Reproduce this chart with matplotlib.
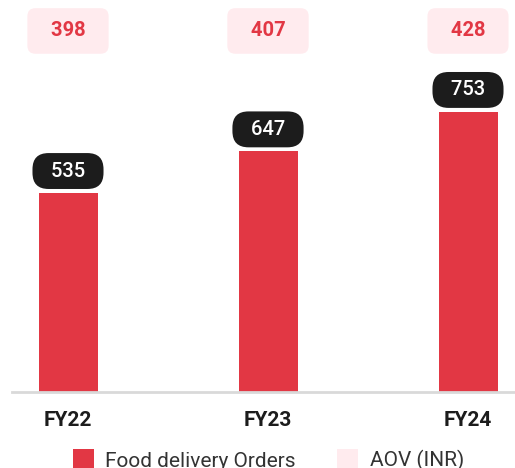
import matplotlib
matplotlib.use("Agg")
from matplotlib import pyplot as plt

# Data
years = ["FY22", "FY23", "FY24"]
orders = [535, 647, 753]
aov = [398, 407, 428]

RED = "#E23744"
PINK = "#FFEBEE"
DARK = "#1C1C1C"

plt.rcParams["font.family"] = ["Roboto", "DejaVu Sans"]

fig = plt.figure(figsize=(5.15, 4.68), dpi=100)
ax = fig.add_axes([12 / 515, 76 / 468, 503 / 515, 392 / 468])

x = range(len(years))
bars = ax.bar(x, orders, width=0.295, color=RED, label="Food delivery Orders", zorder=2)

ax.set_xlim(-0.28, 2.235)
ax.set_ylim(0, 1054)

# black pill labels above each bar
for xi, v in zip(x, orders):
    ax.annotate("  " + str(v) + "  ", (xi, v), xytext=(0, 22), textcoords="offset pixels",
                ha="center", va="center", color="white", fontsize=14.5, fontweight="medium",
                bbox=dict(boxstyle="round,pad=0.42,rounding_size=0.8", fc=DARK, ec="none"))

# AOV boxes along the top
for xi, v in zip(x, aov):
    ax.text(xi, 0.921, "  " + str(v) + "  ", transform=ax.get_xaxis_transform(),
            ha="center", va="center", color=RED, fontsize=14.5, fontweight="bold",
            bbox=dict(boxstyle="round,pad=0.66,rounding_size=0.4", fc=PINK, ec="none"))

for s in ["top", "right", "left"]:
    ax.spines[s].set_visible(False)
ax.spines["bottom"].set_color("#D9D9D9")
ax.spines["bottom"].set_linewidth(2)
ax.set_yticks([])
ax.set_xticks(list(x))
ax.set_xticklabels(years, fontsize=15, fontweight="bold", color="#1C1C1C")
ax.tick_params(axis="x", length=0, pad=14)

pink_handle = plt.Rectangle((0, 0), 1, 1, fc=PINK, ec="none")
fig.legend([bars, pink_handle], ["Food delivery Orders", "AOV (INR)"],
           loc="upper center", bbox_to_anchor=(0.521, 0.059), ncol=2, frameon=False,
           fontsize=15, handlelength=1.0, handleheight=1.25, handletextpad=0.55,
           columnspacing=2.0, labelcolor="#333333", borderaxespad=0)

fig.savefig("out.png", dpi=100)
